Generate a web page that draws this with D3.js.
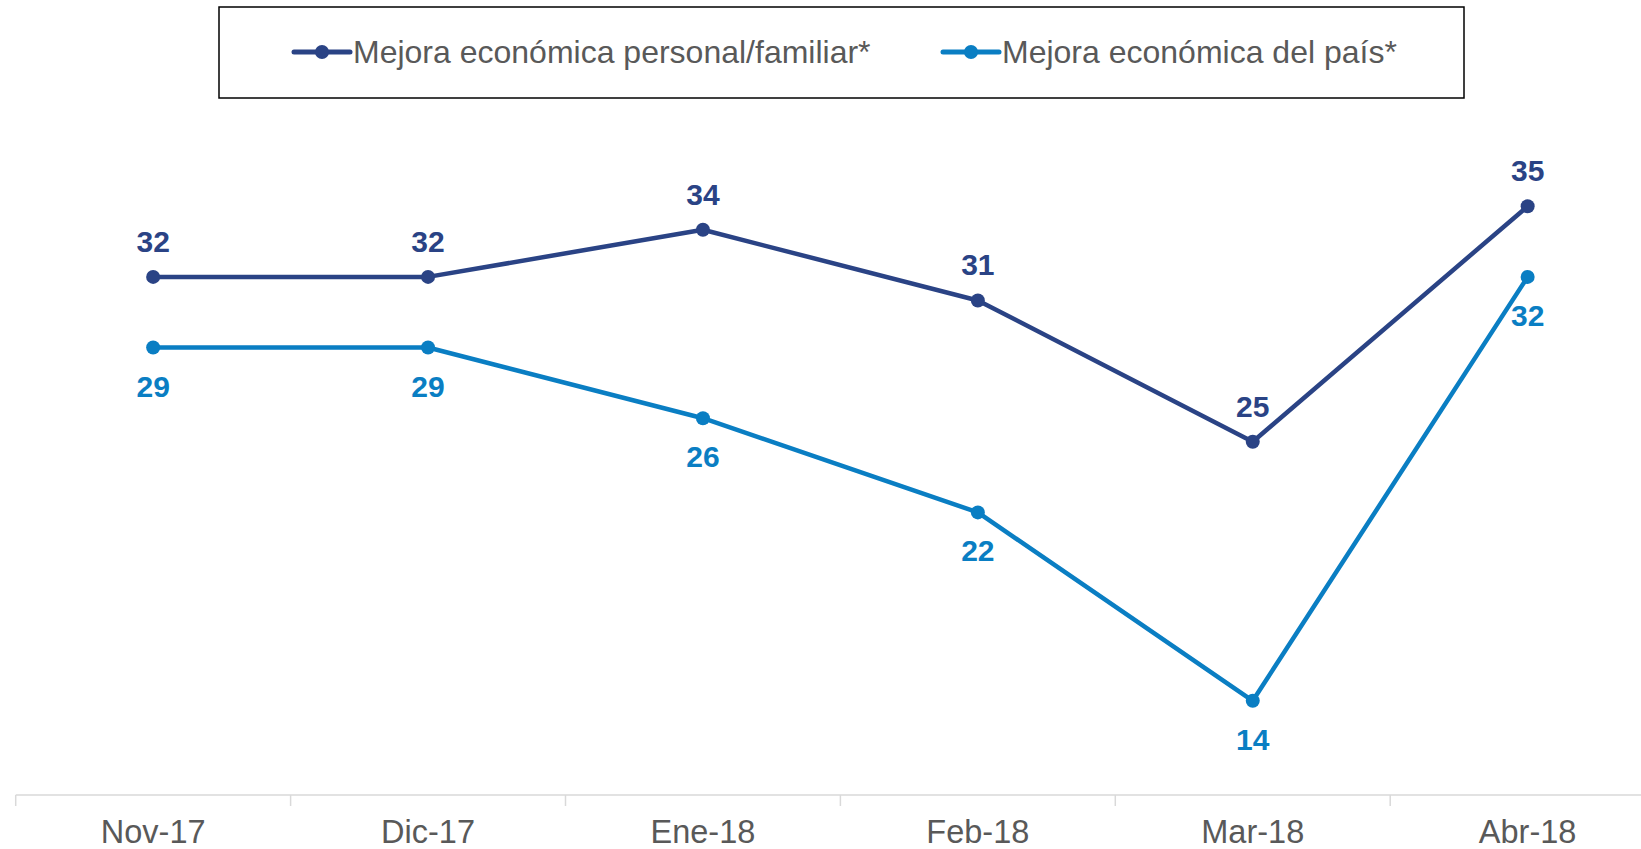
<!DOCTYPE html>
<html>
<head>
<meta charset="utf-8">
<script src="https://cdn.jsdelivr.net/npm/d3@7"></script>
<style>
  html, body { margin: 0; padding: 0; background: #fff; }
  svg { display: block; font-family: "Liberation Sans", Arial, sans-serif; }
</style>
</head>
<body>
<svg id="chart" width="1641" height="849"></svg>
<script>
const categories = ["Nov-17", "Dic-17", "Ene-18", "Feb-18", "Mar-18", "Abr-18"];
const seriesPersonal = [32, 32, 34, 31, 25, 35];
const seriesPais = [29, 29, 26, 22, 14, 32];
const seriesNames = ["Mejora económica personal/familiar*", "Mejora económica del país*"];
const yDomain = [10, 40];

const colors = ["#2A4385", "#0A7EC3"];
const series = [
  { name: seriesNames[0], values: seriesPersonal, color: colors[0], labelPos: "above" },
  { name: seriesNames[1], values: seriesPais, color: colors[1], labelPos: "below" }
];

const svg = d3.select("#chart");
const W = 1641, H = 849;

const x = d3.scaleBand().domain(categories).range([15.7, 15.7 + 6 * 274.9]).padding(0);
const y = d3.scaleLinear().domain(yDomain).range([795, 88.5]);
const cx = c => x(c) + x.bandwidth() / 2;

// axis
const axisG = svg.append("g").attr("transform", `translate(0,${y(yDomain[0])})`);
axisG.append("line")
  .attr("x1", x.range()[0]).attr("x2", W)
  .attr("y1", 0).attr("y2", 0)
  .attr("stroke", "#D9D9D9").attr("stroke-width", 1.5);
axisG.selectAll("line.tick")
  .data(categories)
  .join("line")
  .attr("class", "tick")
  .attr("x1", d => x(d)).attr("x2", d => x(d))
  .attr("y1", 0).attr("y2", 11)
  .attr("stroke", "#D9D9D9").attr("stroke-width", 1.5);

const xAxis = d3.axisBottom(x).tickSize(0).tickPadding(0);
const ax = svg.append("g").attr("transform", `translate(0,${y(yDomain[0])})`).call(xAxis);
ax.select(".domain").remove();
ax.selectAll("text")
  .attr("dy", null)
  .attr("y", 48)
  .attr("font-size", 32.5)
  .attr("font-family", "'Liberation Sans', Arial, sans-serif")
  .attr("fill", "#595959");

// lines
const line = d3.line()
  .x((d, i) => cx(categories[i]))
  .y(d => y(d));

series.forEach(s => {
  const g = svg.append("g");
  g.append("path")
    .datum(s.values)
    .attr("d", line)
    .attr("fill", "none")
    .attr("stroke", s.color)
    .attr("stroke-width", 4.5)
    .attr("stroke-linejoin", "round");
  g.selectAll("circle")
    .data(s.values)
    .join("circle")
    .attr("cx", (d, i) => cx(categories[i]))
    .attr("cy", d => y(d))
    .attr("r", 7)
    .attr("fill", s.color);
  g.selectAll("text")
    .data(s.values)
    .join("text")
    .attr("x", (d, i) => cx(categories[i]))
    .attr("y", d => y(d) + (s.labelPos === "above" ? -25 : 49))
    .attr("text-anchor", "middle")
    .attr("font-size", 30)
    .attr("font-weight", "bold")
    .attr("fill", s.color)
    .text(d => d);
});

// legend
const leg = svg.append("g");
leg.append("rect")
  .attr("x", 219).attr("y", 7)
  .attr("width", 1464 - 219).attr("height", 91)
  .attr("fill", "#fff")
  .attr("stroke", "#000").attr("stroke-width", 1.5);
const legX = [294, 943];
series.forEach((s, i) => {
  const g = leg.append("g").attr("transform", `translate(${legX[i]},52)`);
  g.append("line").attr("x1", 0).attr("x2", 56).attr("y1", 0).attr("y2", 0)
    .attr("stroke", s.color).attr("stroke-width", 5).attr("stroke-linecap", "round");
  g.append("circle").attr("cx", 28).attr("cy", 0).attr("r", 7).attr("fill", s.color);
  g.append("text").attr("x", 59).attr("y", 11)
    .attr("font-size", 32).attr("fill", "#595959")
    .text(s.name);
});
</script>
</body>
</html>
